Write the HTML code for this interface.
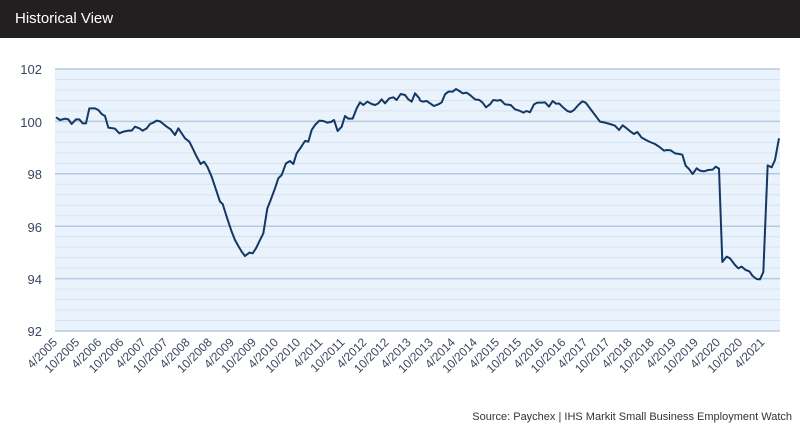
<!DOCTYPE html>
<html><head><meta charset="utf-8"><style>
html,body{margin:0;padding:0;background:#fff;}
body{width:800px;height:439px;overflow:hidden;position:relative;font-family:"Liberation Sans",sans-serif;}
.hdr{position:absolute;left:0;top:0;width:800px;height:38px;background:#231f20;color:#fff;font-size:15px;line-height:38px;padding-left:15px;box-sizing:border-box;}
.src{position:absolute;right:8px;top:411px;font-size:11px;color:#333;}
</style></head><body>
<div class="hdr">Historical View</div>
<svg width="800" height="439" style="position:absolute;left:0;top:0" xmlns="http://www.w3.org/2000/svg">
<rect x="55" y="69" width="725" height="262" fill="#eaf3fc"/>
<g id="grid"></g>
<g font-family="Liberation Sans, sans-serif" font-size="13" fill="#3a4760" text-anchor="end">
<text x="42" y="74">102</text><text x="42" y="127">100</text><text x="42" y="179">98</text>
<text x="42" y="232">96</text><text x="42" y="284">94</text><text x="42" y="336">92</text>
</g>
<g id="xl" font-family="Liberation Sans, sans-serif" font-size="12" fill="#3a4760" text-anchor="end"></g>
<g transform="translate(50,60) scale(0.33333)" fill="none" stroke="#143763" stroke-width="2" stroke-linejoin="round">
<polyline vector-effect="non-scaling-stroke" points="18,172 30,180 45,176 55,178 65,192 78,178 88,178 98,190 108,190 118,145 135,145 145,150 155,162 165,168 175,203 195,206 208,220 220,215 235,212 245,212 255,200 268,205 278,212 290,205 300,192 310,188 320,182 330,184 340,192 350,200 362,208 375,225 385,205 395,220 405,235 418,245 428,265 440,290 452,312 462,305 472,320 485,350 500,395 510,425 518,432 530,470 545,515 555,540 565,558 575,575 585,588 598,578 608,580 618,565 630,540 640,520 652,445 662,420 675,385 685,355 695,345 708,310 720,303 730,312 740,280 752,263 765,243 775,245 785,210 795,195 808,182 820,183 832,188 843,186 852,180 863,213 875,200 885,168 895,176 908,176 920,145 930,127 940,135 952,125 965,132 975,135 985,130 995,118 1005,130 1018,115 1030,112 1040,120 1052,102 1065,105 1075,118 1085,125 1095,100 1108,115 1110,122"/>
</g>
<g transform="translate(420,60) scale(0.33333)" fill="none" stroke="#143763" stroke-width="2" stroke-linejoin="round">
<polyline vector-effect="non-scaling-stroke" points="0,122 10,125 20,123 30,130 42,138 55,133 65,127 75,103 85,95 98,95 108,87 118,93 128,100 140,98 150,105 165,118 178,120 188,128 198,142 210,133 220,120 232,122 242,120 255,133 272,135 285,148 298,152 310,158 320,153 330,157 342,133 352,128 365,128 375,127 387,140 398,123 408,131 418,131 430,143 442,153 452,156 462,150 475,135 487,124 497,128 510,145 525,165 540,185 555,188 570,192 585,197 597,210 608,196 620,205 632,215 642,222 652,216 665,233 678,240 690,246 705,252 720,262 732,272 742,270 752,271 765,280 778,282 787,284 797,317 807,327 818,342 830,325 840,332 852,334 865,330 878,329 887,320 897,326 907,606 920,590 930,595 945,615 955,625 965,620 977,630 988,634 998,648 1010,657 1020,658 1030,636 1043,316 1055,322 1065,300 1077,235"/>
</g>
</svg>
<div class="src">Source: Paychex | IHS Markit Small Business Employment Watch</div>
<script>
var ns="http://www.w3.org/2000/svg",g=document.getElementById('grid');
for(var i=0;i<=25;i++){var y=69+i*262/25;var l=document.createElementNS(ns,'line');
l.setAttribute('x1',55);l.setAttribute('x2',780);l.setAttribute('y1',y);l.setAttribute('y2',y);
var major=(i%5==0);l.setAttribute('stroke',major?'#b3cbe4':'#d3e3f3');l.setAttribute('stroke-width',major?1.5:1);g.appendChild(l);}
var xl=document.getElementById('xl');
for(var k=0;k<33;k++){var yr=2005+Math.floor(k/2),m=(k%2==0)?4:10;
var x=58+k*22.1,y=343;var t=document.createElementNS(ns,'text');
t.setAttribute('transform','translate('+x+','+y+') rotate(-45)');t.textContent=m+'/'+yr;xl.appendChild(t);}
</script>
</body></html>
